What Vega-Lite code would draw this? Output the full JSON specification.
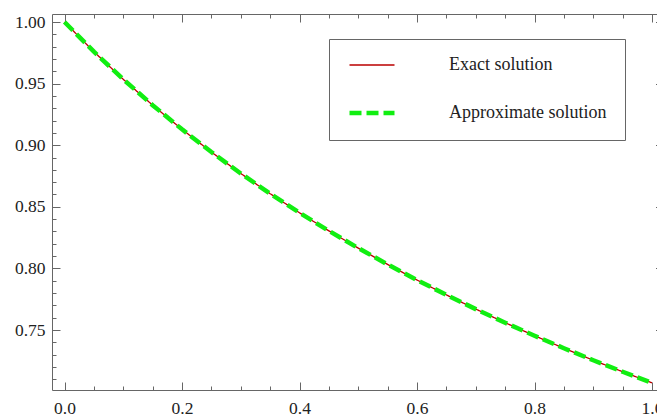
{
  "$schema": "https://vega.github.io/schema/vega-lite/v6.json",
  "width": 605,
  "height": 376,
  "autosize": {"type": "none"},
  "padding": {"left": 52, "top": 14, "right": 0, "bottom": 26},
  "background": "white",
  "config": {
    "font": "Liberation Serif",
    "view": {"stroke": null},
    "axis": {
      "domainColor": "#666666",
      "tickColor": "#666666",
      "grid": false,
      "title": null,
      "labelFont": "Liberation Serif",
      "labelFontSize": 17.5,
      "labelColor": "#222222"
    }
  },
  "data": {
    "values": [
      {"series": "Exact solution", "x": 0.00, "y": 1.00000},
      {"series": "Exact solution", "x": 0.05, "y": 0.97590},
      {"series": "Exact solution", "x": 0.10, "y": 0.95346},
      {"series": "Exact solution", "x": 0.15, "y": 0.93250},
      {"series": "Exact solution", "x": 0.20, "y": 0.91287},
      {"series": "Exact solution", "x": 0.25, "y": 0.89443},
      {"series": "Exact solution", "x": 0.30, "y": 0.87706},
      {"series": "Exact solution", "x": 0.35, "y": 0.86066},
      {"series": "Exact solution", "x": 0.40, "y": 0.84515},
      {"series": "Exact solution", "x": 0.45, "y": 0.83045},
      {"series": "Exact solution", "x": 0.50, "y": 0.81650},
      {"series": "Exact solution", "x": 0.55, "y": 0.80322},
      {"series": "Exact solution", "x": 0.60, "y": 0.79057},
      {"series": "Exact solution", "x": 0.65, "y": 0.77850},
      {"series": "Exact solution", "x": 0.70, "y": 0.76696},
      {"series": "Exact solution", "x": 0.75, "y": 0.75593},
      {"series": "Exact solution", "x": 0.80, "y": 0.74536},
      {"series": "Exact solution", "x": 0.85, "y": 0.73521},
      {"series": "Exact solution", "x": 0.90, "y": 0.72548},
      {"series": "Exact solution", "x": 0.95, "y": 0.71611},
      {"series": "Exact solution", "x": 1.00, "y": 0.70711},
      {"series": "Approximate solution", "x": 0.00, "y": 1.00000},
      {"series": "Approximate solution", "x": 0.05, "y": 0.97590},
      {"series": "Approximate solution", "x": 0.10, "y": 0.95346},
      {"series": "Approximate solution", "x": 0.15, "y": 0.93250},
      {"series": "Approximate solution", "x": 0.20, "y": 0.91287},
      {"series": "Approximate solution", "x": 0.25, "y": 0.89443},
      {"series": "Approximate solution", "x": 0.30, "y": 0.87706},
      {"series": "Approximate solution", "x": 0.35, "y": 0.86066},
      {"series": "Approximate solution", "x": 0.40, "y": 0.84515},
      {"series": "Approximate solution", "x": 0.45, "y": 0.83045},
      {"series": "Approximate solution", "x": 0.50, "y": 0.81650},
      {"series": "Approximate solution", "x": 0.55, "y": 0.80322},
      {"series": "Approximate solution", "x": 0.60, "y": 0.79057},
      {"series": "Approximate solution", "x": 0.65, "y": 0.77850},
      {"series": "Approximate solution", "x": 0.70, "y": 0.76696},
      {"series": "Approximate solution", "x": 0.75, "y": 0.75593},
      {"series": "Approximate solution", "x": 0.80, "y": 0.74536},
      {"series": "Approximate solution", "x": 0.85, "y": 0.73521},
      {"series": "Approximate solution", "x": 0.90, "y": 0.72548},
      {"series": "Approximate solution", "x": 0.95, "y": 0.71611},
      {"series": "Approximate solution", "x": 1.00, "y": 0.70711}
    ]
  },
  "resolve": {"axis": {"x": "independent", "y": "independent"}},
  "layer": [
    {
      "transform": [{"filter": "datum.series === 'Exact solution'"}],
      "mark": {"type": "line", "clip": true},
      "encoding": {
        "x": {
          "field": "x", "type": "quantitative",
          "scale": {"domain": [-0.0213, 1.0085], "nice": false, "zero": false},
          "axis": {
            "orient": "bottom",
            "title": null,
            "values": [0, 0.05, 0.1, 0.15, 0.2, 0.25, 0.3, 0.35, 0.4, 0.45, 0.5, 0.55, 0.6, 0.65, 0.7, 0.75, 0.8, 0.85, 0.9, 0.95, 1.0],
            "tickSize": {"condition": {"test": "abs(datum.value*5-round(datum.value*5))<0.001", "value": -8}, "value": -4},
            "labelExpr": "abs(datum.value*5-round(datum.value*5))<0.001 ? format(datum.value,'.1f') : ''",
            "labelPadding": 17,
            "labelFont": "Liberation Serif",
            "labelFontSize": 17.5,
            "labelColor": "#222222",
            "labelFlush": false,
            "labelOverlap": false,
            "labelBound": false
          }
        },
        "y": {
          "field": "y", "type": "quantitative",
          "scale": {"domain": [0.7013, 1.0065], "nice": false, "zero": false},
          "axis": {
            "orient": "left",
            "title": null,
            "values": [0.71, 0.72, 0.73, 0.74, 0.75, 0.76, 0.77, 0.78, 0.79, 0.8, 0.81, 0.82, 0.83, 0.84, 0.85, 0.86, 0.87, 0.88, 0.89, 0.9, 0.91, 0.92, 0.93, 0.94, 0.95, 0.96, 0.97, 0.98, 0.99, 1.0],
            "tickSize": {"condition": {"test": "abs(datum.value*20-round(datum.value*20))<0.001", "value": -8}, "value": -4},
            "labelExpr": "abs(datum.value*20-round(datum.value*20))<0.001 ? format(datum.value,'.2f') : ''",
            "labelPadding": 15,
            "labelFont": "Liberation Serif",
            "labelFontSize": 17.5,
            "labelColor": "#222222",
            "labelFlush": false,
            "labelOverlap": false,
            "labelBound": false
          }
        },
        "color": {
          "field": "series", "type": "nominal",
          "scale": {"domain": ["Exact solution", "Approximate solution"], "range": ["#bb0000", "#11ee11"]},
          "legend": {
            "title": null,
            "orient": "none",
            "legendX": 277,
            "legendY": 25,
            "strokeColor": "#666666",
            "fillColor": "white",
            "padding": 18,
            "symbolType": "stroke",
            "symbolSize": 2025,
            "clipHeight": 16,
            "labelOffset": 52,
            "labelFont": "Liberation Serif",
            "labelFontSize": 18,
            "labelColor": "#222222",
            "rowPadding": 30
          }
        },
        "strokeDash": {
          "field": "series", "type": "nominal",
          "scale": {"domain": ["Exact solution", "Approximate solution"], "range": [[1, 0], [12, 5]]},
          "legend": null
        },
        "strokeWidth": {
          "field": "series", "type": "nominal",
          "scale": {"domain": ["Exact solution", "Approximate solution"], "range": [1.3, 4.5]},
          "legend": null
        }
      }
    },
    {
      "transform": [{"filter": "datum.series === 'Approximate solution'"}],
      "mark": {"type": "line", "clip": true},
      "encoding": {
        "x": {
          "field": "x", "type": "quantitative",
          "axis": {
            "orient": "top",
            "title": null,
            "values": [0, 0.05, 0.1, 0.15, 0.2, 0.25, 0.3, 0.35, 0.4, 0.45, 0.5, 0.55, 0.6, 0.65, 0.7, 0.75, 0.8, 0.85, 0.9, 0.95, 1.0],
            "tickSize": {"condition": {"test": "abs(datum.value*5-round(datum.value*5))<0.001", "value": -8}, "value": -4},
            "labels": false
          }
        },
        "y": {
          "field": "y", "type": "quantitative",
          "axis": {
            "orient": "right",
            "title": null,
            "domain": false,
            "labels": false,
            "values": [0.75, 0.8, 0.85, 0.9, 0.95, 1.0],
            "tickSize": -1.5
          }
        },
        "color": {"field": "series", "type": "nominal"},
        "strokeDash": {"field": "series", "type": "nominal"},
        "strokeWidth": {"field": "series", "type": "nominal"}
      }
    }
  ]
}
